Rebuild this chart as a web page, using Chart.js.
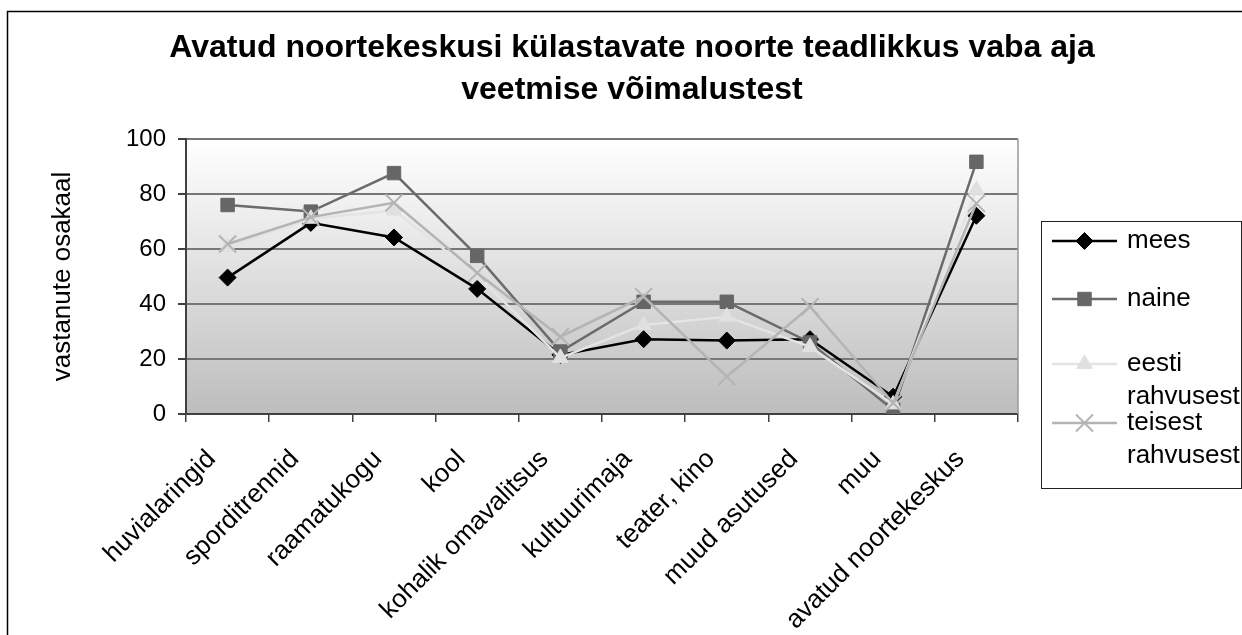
<!DOCTYPE html>
<html>
<head>
<meta charset="utf-8">
<script src="https://cdn.jsdelivr.net/npm/chart.js@4.4.1/dist/chart.umd.min.js"></script>
<style>
html, body { margin: 0; padding: 0; background: #fff; }
canvas { display: block; }
</style>
</head>
<body>
<canvas id="teadlikkusChart" width="1242" height="635"></canvas>
<script>
// vaba aja veetmise võimalused
var categories = ['huvialaringid', 'sporditrennid', 'raamatukogu', 'kool', 'kohalik omavalitsus',
    'kultuurimaja', 'teater, kino', 'muud asutused', 'muu', 'avatud noortekeskus'];

var mees = [49.6, 69.5, 64.2, 45.5, 21.5, 27.2, 26.7, 27.2, 6.3, 72.1];
var naine = [76.0, 73.6, 87.6, 57.5, 22.7, 40.8, 40.8, 26.0, 1.5, 91.7];
var eesti = [60.8, 71.0, 74.0, 50.5, 20.4, 32.4, 35.4, 24.4, 3.5, 81.5];
var teisest = [61.8, 71.6, 76.8, 51.3, 28.1, 42.7, 13.6, 39.0, 4.0, 76.6];

var seriesNames = ['mees', 'naine', 'eesti rahvusest', 'teisest rahvusest'];
var yTicks = [0, 20, 40, 60, 80, 100];

var fontFamily = '"Liberation Sans", Arial, sans-serif';

// plot area gradient, outer frame and the legend box
var frameAndLegend = {
    id: 'frameAndLegend',
    beforeDraw: function (chart) {
        var ctx = chart.ctx, a = chart.chartArea;
        ctx.save();
        ctx.fillStyle = '#ffffff';
        ctx.fillRect(0, 0, chart.width, chart.height);
        var g = ctx.createLinearGradient(0, a.top, 0, a.bottom);
        g.addColorStop(0, '#ffffff');
        g.addColorStop(0.3, '#ececec');
        g.addColorStop(1, '#bdbdbd');
        ctx.fillStyle = g;
        ctx.fillRect(a.left, a.top, a.right - a.left, a.bottom - a.top);
        ctx.restore();
    },
    afterDraw: function (chart) {
        var ctx = chart.ctx, a = chart.chartArea;
        ctx.save();
        // outer frame
        ctx.strokeStyle = '#000';
        ctx.lineWidth = 1.5;
        ctx.beginPath();
        ctx.moveTo(7.5, chart.height);
        ctx.lineTo(7.5, 11.5);
        ctx.lineTo(chart.width, 11.5);
        ctx.stroke();
        // right edge of plot
        ctx.strokeStyle = '#999';
        ctx.lineWidth = 1.5;
        ctx.beginPath();
        ctx.moveTo(a.right, a.top);
        ctx.lineTo(a.right, a.bottom);
        ctx.stroke();

        // legend
        var lx = 1041, ly = 221, lw = 200, lh = 267;
        ctx.strokeStyle = '#222';
        ctx.lineWidth = 1;
        ctx.strokeRect(lx + 0.5, ly + 0.5, lw, lh);
        var rowY = [241, 299, 364, 423];
        ctx.font = '26px ' + fontFamily;
        ctx.textAlign = 'left';
        ctx.textBaseline = 'middle';
        chart.data.datasets.forEach(function (ds, i) {
            var y = rowY[i];
            ctx.strokeStyle = ds.borderColor;
            ctx.lineWidth = ds.borderWidth;
            ctx.beginPath();
            ctx.moveTo(1052, y);
            ctx.lineTo(1117, y);
            ctx.stroke();
            ctx.fillStyle = ds.pointBackgroundColor;
            ctx.strokeStyle = ds.pointBorderColor;
            ctx.lineWidth = ds.pointBorderWidth;
            Chart.helpers.drawPoint(ctx, {
                pointStyle: ds.pointStyle,
                radius: ds.pointRadius,
                borderWidth: ds.pointBorderWidth,
                rotation: 0
            }, 1084.5, y);
            ctx.fillStyle = '#000';
            var words = ds.label.split(' ');
            for (var k = 0; k < words.length; k++) {
                ctx.fillText(words[k], 1127, y + k * 33);
            }
        });
        ctx.restore();
    }
};

var ctx = document.getElementById('teadlikkusChart').getContext('2d');
var chart = new Chart(ctx, {
    type: 'line',
    data: {
        labels: categories,
        datasets: [{
            label: seriesNames[0],
            data: mees,
            borderColor: '#000000',
            backgroundColor: '#000000',
            pointBackgroundColor: '#000000',
            pointBorderColor: '#000000',
            borderWidth: 2.5,
            pointStyle: 'rectRot',
            pointRadius: 8.5,
            pointBorderWidth: 1,
            order: 4
        }, {
            label: seriesNames[1],
            data: naine,
            borderColor: '#6b6b6b',
            backgroundColor: '#666666',
            pointBackgroundColor: '#666666',
            pointBorderColor: '#666666',
            borderWidth: 2.5,
            pointStyle: 'rect',
            pointRadius: 9.5,
            pointBorderWidth: 1,
            order: 3
        }, {
            label: seriesNames[2],
            data: eesti,
            borderColor: '#e4e4e4',
            backgroundColor: '#e0e0e0',
            pointBackgroundColor: '#e0e0e0',
            pointBorderColor: '#e0e0e0',
            borderWidth: 2.5,
            pointStyle: 'triangle',
            pointRadius: 9,
            pointBorderWidth: 1,
            order: 2
        }, {
            label: seriesNames[3],
            data: teisest,
            borderColor: '#b4b4b4',
            backgroundColor: '#b4b4b4',
            pointBackgroundColor: '#b4b4b4',
            pointBorderColor: '#b4b4b4',
            borderWidth: 2.5,
            pointStyle: 'crossRot',
            pointRadius: 12,
            pointBorderWidth: 2,
            order: 1
        }]
    },
    options: {
        responsive: false,
        animation: false,
        devicePixelRatio: 1,
        layout: { padding: { left: 22, right: 0, top: 0, bottom: 0 } },
        elements: { line: { tension: 0 } },
        plugins: {
            legend: { display: false },
            tooltip: { enabled: false },
            title: {
                display: true,
                text: ['Avatud noortekeskusi külastavate noorte teadlikkus vaba aja', 'veetmise võimalustest'],
                color: '#000',
                font: { family: fontFamily, size: 32, weight: 'bold', lineHeight: 1.3125 },
                padding: { top: 27.5, bottom: 27.5 }
            }
        },
        scales: {
            x: {
                offset: true,
                grid: { display: true, drawOnChartArea: false, offset: true, tickLength: 8, color: '#404040', lineWidth: 1.5 },
                border: { color: '#404040', width: 2 },
                ticks: {
                    color: '#000',
                    font: { family: fontFamily, size: 26 },
                    maxRotation: 45,
                    minRotation: 45,
                    padding: 22,
                    labelOffset: -16,
                    autoSkip: false
                },
                afterFit: function (s) { s.height = 221; }
            },
            y: {
                min: yTicks[0],
                max: yTicks[yTicks.length - 1],
                ticks: {
                    stepSize: yTicks[1] - yTicks[0],
                    color: '#000',
                    font: { family: fontFamily, size: 24 },
                    padding: 12
                },
                grid: { color: '#777777', lineWidth: 2, tickLength: 8, tickColor: '#404040' },
                border: { color: '#404040', width: 2 },
                title: {
                    display: true,
                    text: 'vastanute osakaal',
                    color: '#000',
                    font: { family: fontFamily, size: 26 },
                    padding: { top: 25, bottom: 0 }
                },
                afterFit: function (s) { s.width = 164; }
            },
            yRight: {
                position: 'right',
                display: true,
                grid: { display: false },
                border: { display: false },
                ticks: { display: false },
                afterFit: function (s) { s.width = 224; }
            }
        }
    },
    plugins: [frameAndLegend]
});
</script>
</body>
</html>
